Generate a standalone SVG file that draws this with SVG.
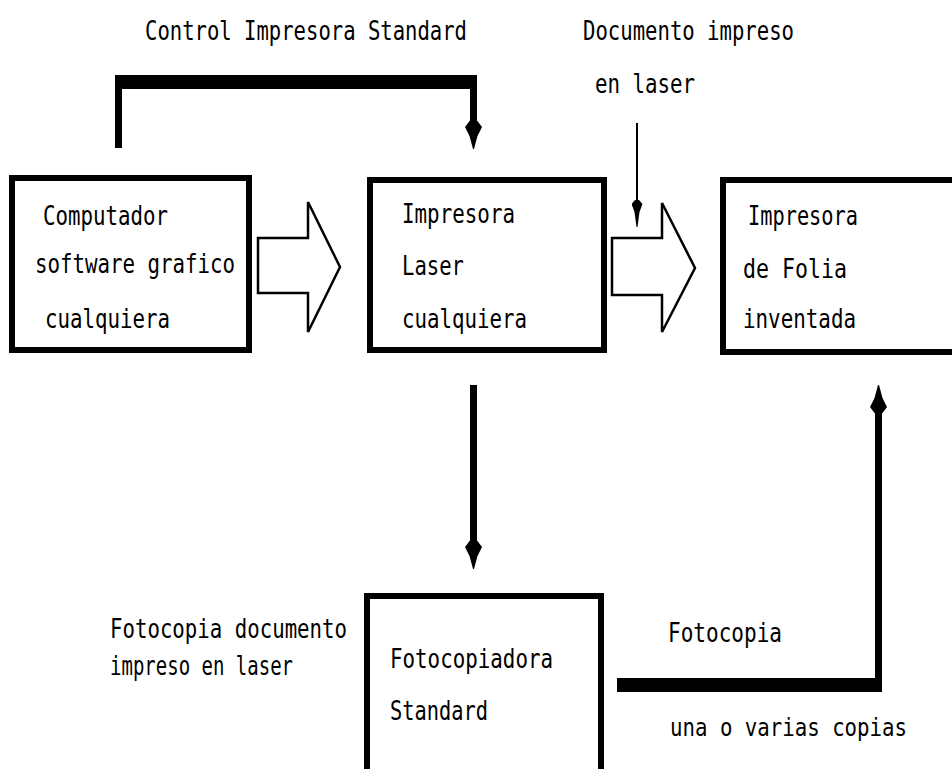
<svg xmlns="http://www.w3.org/2000/svg" width="952" height="769" viewBox="0 0 952 769">
<style>
  .box { fill: #fff; stroke: #000; stroke-width: 6; }
  .t { font-family: "DejaVu Sans Mono", "Liberation Mono", monospace; font-size: 26px; fill: #000; }
  .block { fill: #fff; stroke: #000; stroke-width: 2.5; stroke-linejoin: miter; }
  .thick { stroke: #000; stroke-width: 7; fill: none; }
  .thin { stroke: #000; stroke-width: 2; fill: none; }
  .bar { fill: #000; }
</style>
<defs>
  <marker id="ah" markerUnits="userSpaceOnUse" markerWidth="28" markerHeight="17" viewBox="0 0 28 17" refX="1" refY="8.5" orient="auto">
    <path d="M0,4.5 L6,0 L15,4.5 L28,8 L28,9 L15,12.5 L6,17 L0,12.5 Z" fill="#000"/>
  </marker>
  <marker id="ahs" markerUnits="userSpaceOnUse" markerWidth="27" markerHeight="11" viewBox="0 0 27 11" refX="1" refY="5.5" orient="auto">
    <path d="M0,3.5 L4,0 L12,3 L27,5 L27,6 L12,8 L4,11 L0,7.5 Z" fill="#000"/>
  </marker>
</defs>
<rect width="952" height="769" fill="#fff"/>

<g id="connectors">
  <!-- control bracket -->
  <path class="bar" d="M115,148 L115,75 L477,75 L477,89 L122,89 L122,148 Z"/>
  <line class="thick" x1="473.5" y1="85" x2="473.5" y2="122" marker-end="url(#ah)"/>
  <!-- documento impreso arrow -->
  <line class="thin" x1="637" y1="123" x2="637" y2="201" marker-end="url(#ahs)"/>
  <!-- block arrows -->
  <polygon class="block" points="258,238 308,238 308,202 340,267 308,332 308,293 258,293"/>
  <polygon class="block" points="612,238 662,238 662,203 695,268 662,332 662,295 612,295"/>
  <!-- down arrow to fotocopiadora -->
  <line class="thick" x1="473.5" y1="385" x2="473.5" y2="542" marker-end="url(#ah)"/>
  <!-- fotocopia return -->
  <rect class="bar" x="617" y="678" width="265" height="14"/>
  <line class="thick" x1="878.5" y1="692" x2="878.5" y2="412" marker-end="url(#ah)"/>
</g>

<g id="computador">
  <rect class="box" x="12" y="178" width="237" height="172"/>
  <text class="t" x="43" y="225" textLength="125" lengthAdjust="spacingAndGlyphs">Computador</text>
  <text class="t" x="35" y="273" textLength="200" lengthAdjust="spacingAndGlyphs">software grafico</text>
  <text class="t" x="45" y="328" textLength="125" lengthAdjust="spacingAndGlyphs">cualquiera</text>
</g>

<g id="impresora-laser">
  <rect class="box" x="370" y="180" width="234" height="170"/>
  <text class="t" x="402" y="223" textLength="113" lengthAdjust="spacingAndGlyphs">Impresora</text>
  <text class="t" x="402" y="275" textLength="62" lengthAdjust="spacingAndGlyphs">Laser</text>
  <text class="t" x="402" y="328" textLength="125" lengthAdjust="spacingAndGlyphs">cualquiera</text>
</g>

<g id="impresora-folia">
  <rect class="box" x="723" y="180" width="260" height="172"/>
  <text class="t" x="748" y="225" textLength="110" lengthAdjust="spacingAndGlyphs">Impresora</text>
  <text class="t" x="743" y="278" textLength="104" lengthAdjust="spacingAndGlyphs">de Folia</text>
  <text class="t" x="743" y="328" textLength="113" lengthAdjust="spacingAndGlyphs">inventada</text>
</g>

<g id="fotocopiadora">
  <rect class="box" x="367" y="596" width="234" height="200"/>
  <text class="t" x="390" y="668" textLength="163" lengthAdjust="spacingAndGlyphs">Fotocopiadora</text>
  <text class="t" x="390" y="720" textLength="98" lengthAdjust="spacingAndGlyphs">Standard</text>
</g>

<g id="labels">
  <text class="t" x="145" y="40" textLength="322" lengthAdjust="spacingAndGlyphs">Control Impresora Standard</text>
  <text class="t" x="583" y="40" textLength="211" lengthAdjust="spacingAndGlyphs">Documento impreso</text>
  <text class="t" x="595" y="93" textLength="100" lengthAdjust="spacingAndGlyphs">en laser</text>
  <text class="t" x="110" y="638" textLength="237" lengthAdjust="spacingAndGlyphs">Fotocopia documento</text>
  <text class="t" x="110" y="675" textLength="183" lengthAdjust="spacingAndGlyphs">impreso en laser</text>
  <text class="t" x="668" y="642" textLength="114" lengthAdjust="spacingAndGlyphs">Fotocopia</text>
  <text class="t" x="670" y="736" style="font-size:24px" textLength="237" lengthAdjust="spacingAndGlyphs">una o varias copias</text>
</g>
</svg>
